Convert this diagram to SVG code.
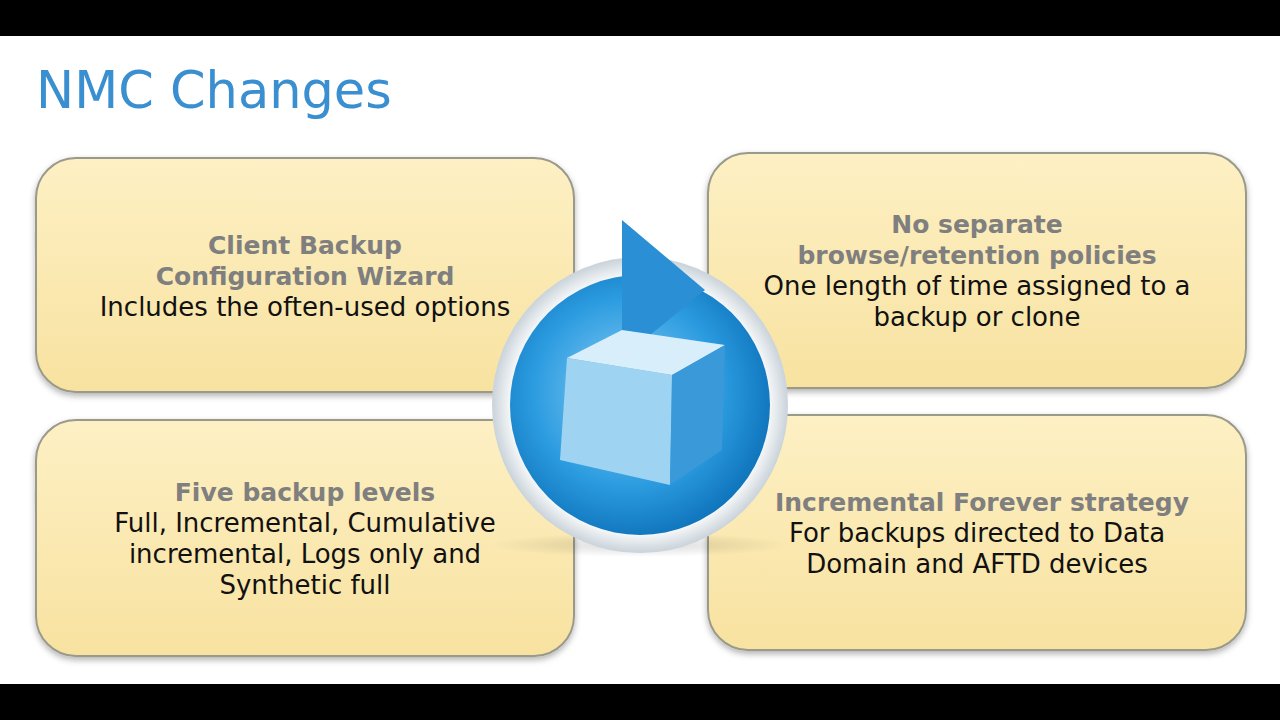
<svg xmlns="http://www.w3.org/2000/svg" width="1280" height="720" viewBox="0 0 1280 720">
<defs>
<linearGradient id="bx" x1="0" y1="0" x2="0" y2="1"><stop offset="0" stop-color="#fdf0c4"/><stop offset="1" stop-color="#f8e2a0"/></linearGradient>
<radialGradient id="bl" cx="0.45" cy="0.45" r="0.6"><stop offset="0" stop-color="#8fd0f5"/><stop offset="0.6" stop-color="#2c9ce0"/><stop offset="1" stop-color="#0b6fb8"/></radialGradient>
<radialGradient id="ring" cx="0.5" cy="0.5" r="0.5"><stop offset="0.85" stop-color="#ffffff"/><stop offset="1" stop-color="#c9d3da"/></radialGradient>
<radialGradient id="sd" cx="0.5" cy="0.5" r="0.5"><stop offset="0" stop-color="#000" stop-opacity="0.15"/><stop offset="1" stop-color="#000" stop-opacity="0"/></radialGradient>
<filter id="sh" x="-10%" y="-10%" width="120%" height="130%"><feDropShadow dx="0" dy="3" stdDeviation="3" flood-color="#000" flood-opacity="0.3"/></filter>
<style>
.box{fill:url(#bx);stroke:#9a9a8a;stroke-width:2;filter:url(#sh)}
.h{font-family:"DejaVu Sans",sans-serif;font-weight:bold;font-size:25px;fill:#7f7f7f;text-anchor:middle}
.t{font-family:"DejaVu Sans",sans-serif;font-size:26px;fill:#111;text-anchor:middle}
</style>
</defs>
<rect width="1280" height="720" fill="#fff"/>
<rect width="1280" height="36" fill="#000"/>
<rect y="684" width="1280" height="36" fill="#000"/>
<text x="36" y="108" font-family="DejaVu Sans,sans-serif" font-size="51" fill="#3a8fd0">NMC Changes</text>
<g id="n1"><rect class="box" x="36" y="158" width="538" height="234" rx="40"/>
<text class="h" x="305" y="254">Client Backup</text><text class="h" x="305" y="285">Configuration Wizard</text><text class="t" x="305" y="316">Includes the often-used options</text></g>
<g id="n2"><rect class="box" x="708" y="153" width="538" height="235" rx="40"/>
<text class="h" x="977" y="233">No separate</text><text class="h" x="977" y="264">browse/retention policies</text><text class="t" x="977" y="295">One length of time assigned to a</text><text class="t" x="977" y="326">backup or clone</text></g>
<g id="n3"><rect class="box" x="36" y="420" width="538" height="236" rx="40"/>
<text class="h" x="305" y="501">Five backup levels</text><text class="t" x="305" y="532">Full, Incremental, Cumulative</text><text class="t" x="305" y="563">incremental, Logs only and</text><text class="t" x="305" y="594">Synthetic full</text></g>
<g id="n4"><rect class="box" x="708" y="415" width="538" height="235" rx="40"/>
<text class="h" x="982" y="511">Incremental Forever strategy</text><text class="t" x="977" y="542">For backups directed to Data</text><text class="t" x="977" y="573">Domain and AFTD devices</text></g>
<g id="icon">
<ellipse cx="640" cy="545" rx="150" ry="12" fill="url(#sd)"/>
<circle cx="640" cy="405" r="148" fill="url(#ring)"/>
<circle cx="640" cy="405" r="130" fill="url(#bl)"/>
<path d="M622 220 L705 290 L622 358 Z" fill="#2a8fd4"/>
<path d="M567 358 L622 330 L725 345 L672 375 Z" fill="#d8eefa"/>
<path d="M567 358 L672 375 L670 485 L560 460 Z" fill="#9fd3f2"/>
<path d="M672 375 L725 345 L722 450 L670 485 Z" fill="#3a9ad9"/>
</g>
</svg>
